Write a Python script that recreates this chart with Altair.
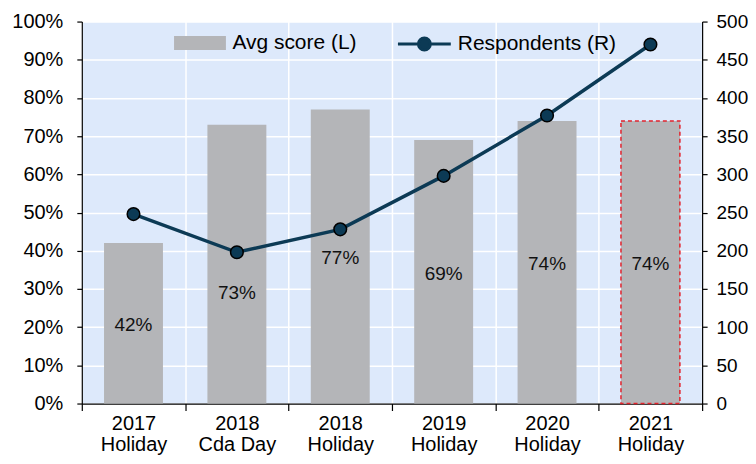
import altair as alt
import pandas as pd

years = ["2017", "2018", "2018", "2019", "2020", "2021"]
events = ["Holiday", "Cda Day", "Holiday", "Holiday", "Holiday", "Holiday"]
avg_score = [42, 73, 77, 69, 74, 74]
respondents = [248, 198, 228, 298, 377, 470]

cats = [f"{y}|{e}" for y, e in zip(years, events)]
df = pd.DataFrame({
    "cat": cats,
    "score": avg_score,
    "resp": respondents,
    "label": [f"{v}%" for v in avg_score],
    "sbar": ["Avg score (L)"] * len(cats),
    "sline": ["Respondents (R)"] * len(cats),
})
highlight_cat = cats[-1]
shifted_cat = cats[1]

FONT = "Liberation Sans"
GREY = "#B4B5B8"
NAVY = "#0C3A55"
RED = "#E3232C"
BG = "#DDE9FB"

x_axis = alt.Axis(title=None, labelExpr="split(datum.label, '|')", labelAngle=0,
                  tickBand="extent", grid=True, gridColor="white", gridWidth=1.5,
                  gridOpacity=1, domainColor="black", domainWidth=1.2,
                  tickColor="black", tickSize=7, tickWidth=1.2,
                  labelFontSize=20, labelPadding=3, labelLineHeight=21,
                  labelColor="black", labelFont=FONT, zindex=0)
x_scale = alt.Scale(paddingInner=0, paddingOuter=0)

def xenc():
    return alt.X("cat:N", sort=cats, scale=x_scale, axis=x_axis)

yL_scale = alt.Scale(domain=[0, 100], nice=False)
yL_axis = alt.Axis(title=None, values=list(range(0, 101, 10)),
                   labelExpr="datum.value + '%'", grid=True,
                   gridColor="white", gridWidth=1.5, gridOpacity=1,
                   domainColor="black", domainWidth=1.2, tickColor="black",
                   tickSize=5, tickWidth=1.2, labelFontSize=20, labelPadding=14,
                   labelColor="black", labelFont=FONT, zindex=0)

yR_scale = alt.Scale(domain=[0, 500], nice=False)
yR_axis = alt.Axis(title=None, orient="right", values=list(range(0, 501, 50)),
                   grid=False, domainColor="black", domainWidth=1.2,
                   tickColor="black", tickSize=5, tickWidth=1.2,
                   labelFontSize=19, labelPadding=9, labelColor="black",
                   labelFont=FONT, zindex=1)

bar_legend = alt.Legend(
    title=None, orient="none", legendX=108, legendY=11, padding=0,
    symbolType="M-2.6,-0.7L2.6,-0.7L2.6,0.7L-2.6,0.7Z", symbolSize=400,
    symbolStrokeWidth=0, labelOffset=22, labelFontSize=21, labelFont=FONT,
    labelColor="black",
)
line_legend = alt.Legend(
    title=None, orient="none", legendX=332, legendY=11, padding=0,
    symbolType="M-2.65,0L-0.6,0M0.6,0L2.65,0M0.6,0A0.6,0.6,0,1,1,-0.6,0A0.6,0.6,0,1,1,0.6,0Z",
    symbolSize=400, symbolStrokeWidth=3, symbolFillColor=NAVY, labelOffset=22,
    labelFontSize=21, labelFont=FONT, labelColor="black",
)

base = alt.Chart(df)

bars = base.mark_bar(width=alt.RelativeBandSize(0.57)).encode(
    x=xenc(), y=alt.Y("score:Q", scale=yL_scale, axis=yL_axis),
    color=alt.Color("sbar:N", scale=alt.Scale(range=[GREY]), legend=bar_legend),
)

hl = base.transform_filter(alt.datum.cat == highlight_cat).mark_bar(
    width=alt.RelativeBandSize(0.57), fill=GREY, stroke=RED, strokeWidth=1.5,
    strokeDash=[4, 3]
).encode(x=xenc(), y=alt.Y("score:Q", scale=yL_scale, axis=yL_axis))

labels = base.transform_filter(alt.datum.cat != shifted_cat).transform_calculate(
    mid="datum.score / 2"
).mark_text(fontSize=19, font=FONT, color="#111111", dy=2).encode(
    x=xenc(),
    y=alt.Y("mid:Q", scale=yL_scale, axis=yL_axis),
    text="label:N",
)
labels_shift = base.transform_filter(alt.datum.cat == shifted_cat).transform_calculate(
    mid="datum.score / 2"
).mark_text(fontSize=19, font=FONT, color="#111111", dy=29).encode(
    x=xenc(),
    y=alt.Y("mid:Q", scale=yL_scale, axis=yL_axis),
    text="label:N",
)

left = alt.layer(bars, hl, labels, labels_shift)

line = base.mark_line(strokeWidth=3.5).encode(
    x=xenc(),
    y=alt.Y("resp:Q", scale=yR_scale, axis=yR_axis),
    stroke=alt.Stroke("sline:N", scale=alt.Scale(range=[NAVY]), legend=line_legend),
)
points = base.mark_point(filled=True, size=160, shape="circle", fill=NAVY,
                         stroke="black", strokeWidth=1.5, opacity=1).encode(
    x=xenc(),
    y=alt.Y("resp:Q", scale=yR_scale, axis=yR_axis),
)
right = alt.layer(line, points)

chart = alt.layer(left, right).resolve_scale(y="independent").properties(
    width=622, height=383, padding={"left": 3, "top": 3, "right": 0, "bottom": 0},
).configure_view(fill=BG, stroke="transparent")

chart.save("out.html", embed_options={"renderer": "svg", "actions": False})
